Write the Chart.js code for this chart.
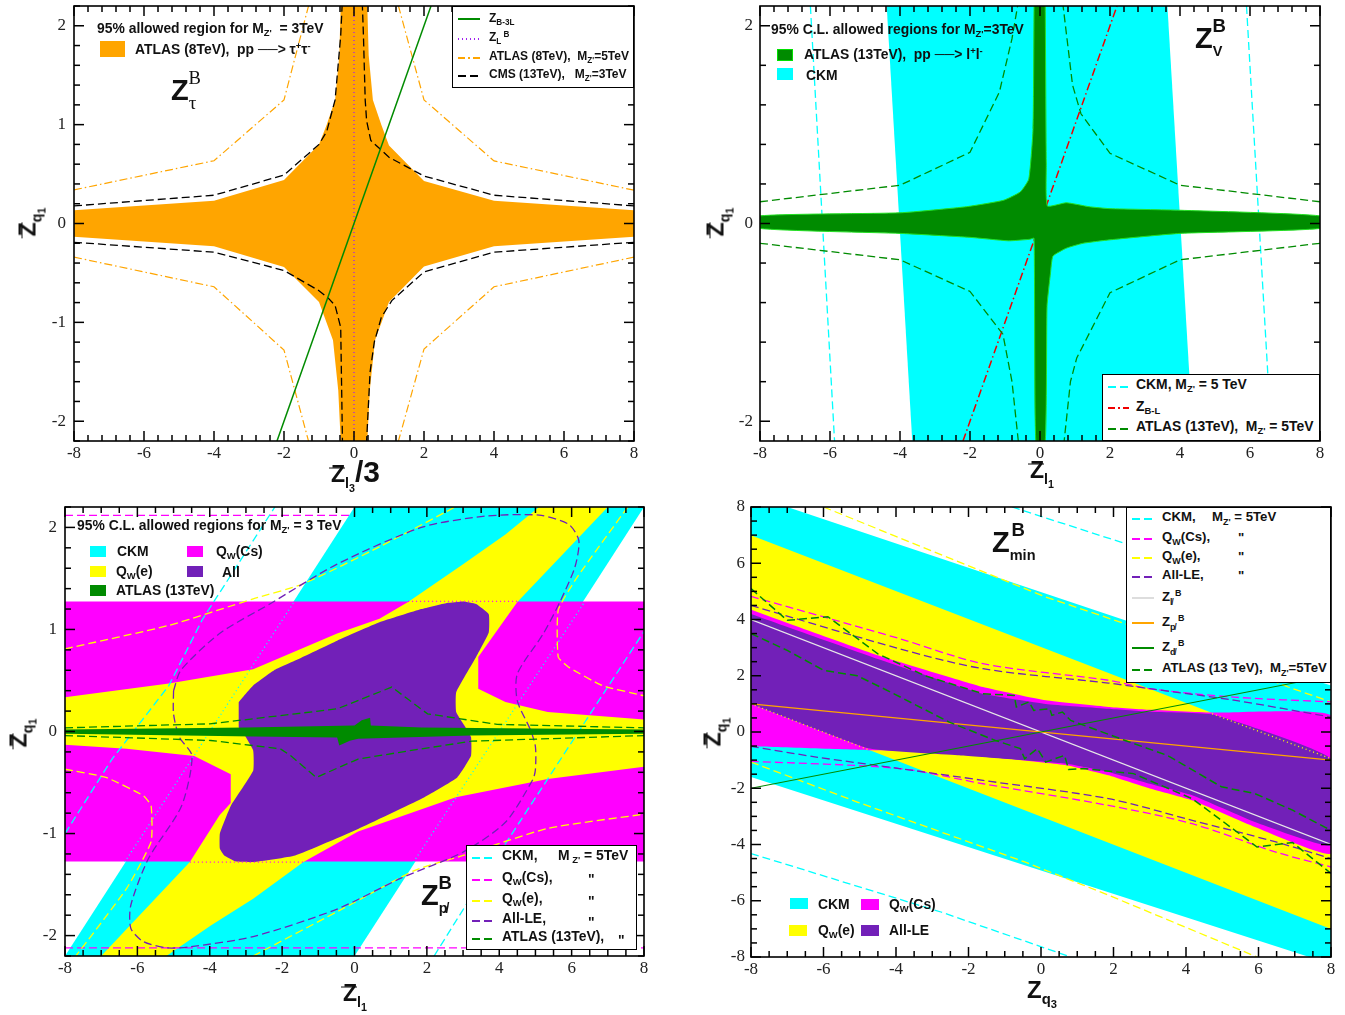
<!DOCTYPE html>
<html lang="en">
<head>
<meta charset="UTF-8">
<title>Z' allowed regions</title>
<script src="https://cdn.jsdelivr.net/npm/chart.js"></script>
<style>
  html, body { margin: 0; background: #fff; overflow: hidden; }
  #page { position: relative; width: 1345px; height: 1015px; }
  canvas { position: absolute; }
  .t { position: absolute; white-space: pre; font: bold 13.9px "Liberation Sans", sans-serif; color: #111; transform: translateY(-50%); z-index: 3; line-height: 1; }
  .t sub, .t sup { font-size: 68%; line-height: 0; }
  .t sub { vertical-align: -0.35em; }
  .t sup { vertical-align: 0.55em; }
  .s12 { font-size: 12px; }
  .s13 { font-size: 13.2px; }
  .box { position: absolute; background: #fff; border: 1.5px solid #000; box-sizing: border-box; z-index: 2; }
  .sw { position: absolute; z-index: 3; }
  .ln { position: absolute; height: 1.5px; z-index: 3; background: var(--c); }
  .ln.da { background: repeating-linear-gradient(90deg, var(--c) 0 8px, transparent 8px 12px); }
  .ln.dd { background: repeating-linear-gradient(90deg, var(--c) 0 7px, transparent 7px 10px, var(--c) 10px 12px, transparent 12px 15px); }
  .ln.do { background: repeating-linear-gradient(90deg, var(--c) 0 1.5px, transparent 1.5px 4px); }
  .big { font-size: 29px; }
  .big sub { font-size: 50%; vertical-align: -0.6em; }
  .big sup { font-size: 64%; vertical-align: 0.85em; }
  .big sub.srf { font-size: 66%; vertical-align: -0.5em; }
  .srf { font-family: "Liberation Serif", serif; font-weight: normal; }
  .ax { font-size: 23px; }
  .ax sub { font-size: 62%; vertical-align: -0.4em; }
  .ax sub sub { font-size: 75%; }
  .rot { transform: translate(-50%, -50%) rotate(-90deg); }
  .zb { position: relative; }
  .zb::before { content: ""; position: absolute; left: -2px; right: 0; top: 26%; border-top: 1.5px solid #111; }
</style>
</head>
<body>
<div id="page">
  <canvas id="c1"></canvas><canvas id="c2"></canvas><canvas id="c3"></canvas><canvas id="c4"></canvas>

  <!-- top left -->
  <div class="t" style="left:97px;top:29px">95% allowed region for M<sub>Z'</sub>  = 3TeV</div>
  <div class="sw" style="left:100px;top:41px;width:25px;height:16px;background:#ffa500"></div>
  <div class="t" style="left:135px;top:50px">ATLAS (8TeV),  pp ──> τ<sup>+</sup>τ<sup>-</sup></div>
  <div class="t big" style="left:171px;top:90px">Z<sub class="srf">τ</sub><sup class="srf" style="margin-left:-8px">B</sup></div>
  <div class="box" style="left:452px;top:6px;width:182px;height:82px"></div>
  <div class="ln" style="left:458px;top:18px;width:22px;--c:#008b00"></div>
  <div class="t s12" style="left:489px;top:18px">Z<sub>B-3L</sub></div>
  <div class="ln do" style="left:458px;top:38px;width:22px;--c:#a020f0"></div>
  <div class="t s12" style="left:489px;top:37px">Z<sub>L</sub><sup> B</sup></div>
  <div class="ln dd" style="left:458px;top:57px;width:22px;--c:#ffa500"></div>
  <div class="t s12" style="left:489px;top:56px">ATLAS (8TeV),  M<sub>Z'</sub>=5TeV</div>
  <div class="ln da" style="left:458px;top:75px;width:22px;--c:#000"></div>
  <div class="t s12" style="left:489px;top:74px">CMS (13TeV),   M<sub>Z'</sub>=3TeV</div>
  <div class="t rot ax" style="left:29px;top:222px"><span class="zb">Z</span><sub>q<sub>1</sub></sub></div>
  <div class="t ax" style="left:331px;top:472px"><span class="zb">Z</span><sub>l<sub>3</sub></sub><span style="font-size:30px">/3</span></div>

  <!-- top right -->
  <div class="t" style="left:771px;top:30px">95% C.L. allowed regions for M<sub>Z'</sub>=3TeV</div>
  <div class="sw" style="left:777px;top:49px;width:16px;height:12px;background:#008b00;outline:1px solid #00e000;outline-offset:-1px"></div>
  <div class="t" style="left:804px;top:55px">ATLAS (13TeV),  pp ──> l<sup>+</sup>l<sup>-</sup></div>
  <div class="sw" style="left:777px;top:68px;width:16px;height:12px;background:#0ff"></div>
  <div class="t" style="left:806px;top:76px">CKM</div>
  <div class="t big" style="left:1195px;top:38px">Z<sub>V</sub><sup style="margin-left:-10px">B</sup></div>
  <div class="box" style="left:1102px;top:374px;width:218px;height:67px"></div>
  <div class="ln da" style="left:1108px;top:386px;width:21px;--c:#0ff"></div>
  <div class="t" style="left:1136px;top:385px">CKM, M<sub>Z'</sub> = 5 TeV</div>
  <div class="ln dd" style="left:1108px;top:407px;width:21px;--c:#f00000"></div>
  <div class="t" style="left:1136px;top:407px">Z<sub>B-L</sub></div>
  <div class="ln da" style="left:1108px;top:428px;width:21px;--c:#008b00"></div>
  <div class="t" style="left:1136px;top:427px">ATLAS (13TeV),  M<sub>Z'</sub> = 5TeV</div>
  <div class="t rot ax" style="left:717px;top:222px"><span class="zb">Z</span><sub>q<sub>1</sub></sub></div>
  <div class="t ax" style="left:1030px;top:471px"><span class="zb">Z</span><sub>l<sub>1</sub></sub></div>

  <!-- bottom left -->
  <div class="t" style="left:77px;top:526px">95% C.L. allowed regions for M<sub>Z'</sub> = 3 TeV</div>
  <div class="sw" style="left:90px;top:546px;width:16px;height:11px;background:#0ff"></div>
  <div class="t" style="left:117px;top:552px">CKM</div>
  <div class="sw" style="left:187px;top:546px;width:16px;height:11px;background:#f0f"></div>
  <div class="t" style="left:216px;top:552px">Q<sub>W</sub>(Cs)</div>
  <div class="sw" style="left:90px;top:566px;width:16px;height:11px;background:#ff0"></div>
  <div class="t" style="left:116px;top:572px">Q<sub>W</sub>(e)</div>
  <div class="sw" style="left:187px;top:566px;width:16px;height:11px;background:#7220b8"></div>
  <div class="t" style="left:222px;top:573px">All</div>
  <div class="sw" style="left:90px;top:585px;width:16px;height:11px;background:#008b00"></div>
  <div class="t" style="left:116px;top:591px">ATLAS (13TeV)</div>
  <div class="t big" style="left:421px;top:895px">Z<sub>p̸</sub><sup style="margin-left:-9px">B</sup></div>
  <div class="box" style="left:466px;top:845px;width:171px;height:105px"></div>
  <div class="ln da" style="left:472px;top:857px;width:23px;--c:#0ff"></div>
  <div class="t" style="left:502px;top:856px">CKM,</div><div class="t" style="left:558px;top:856px">M<sub> Z'</sub> = 5TeV</div>
  <div class="ln da" style="left:472px;top:879px;width:23px;--c:#f0f"></div>
  <div class="t" style="left:502px;top:878px">Q<sub>W</sub>(Cs),</div><div class="t" style="left:588px;top:880px">"</div>
  <div class="ln da" style="left:472px;top:900px;width:23px;--c:#ff0"></div>
  <div class="t" style="left:502px;top:899px">Q<sub>W</sub>(e),</div><div class="t" style="left:588px;top:902px">"</div>
  <div class="ln da" style="left:472px;top:920px;width:23px;--c:#7220b8"></div>
  <div class="t" style="left:502px;top:919px">All-LE,</div><div class="t" style="left:588px;top:923px">"</div>
  <div class="ln da" style="left:472px;top:938px;width:23px;--c:#008b00"></div>
  <div class="t" style="left:502px;top:937px">ATLAS (13TeV),</div><div class="t" style="left:618px;top:941px">"</div>
  <div class="t rot ax" style="left:20px;top:733px"><span class="zb">Z</span><sub>q<sub>1</sub></sub></div>
  <div class="t ax" style="left:343px;top:994px"><span class="zb">Z</span><sub>l<sub>1</sub></sub></div>

  <!-- bottom right -->
  <div class="t big" style="left:992px;top:542px">Z<sub>min</sub><sup style="margin-left:-24px">B</sup></div>
  <div class="box" style="left:1126px;top:507px;width:205px;height:176px"></div>
  <div class="ln da" style="left:1132px;top:518px;width:22px;--c:#0ff"></div>
  <div class="t s13" style="left:1162px;top:517px">CKM,</div><div class="t s13" style="left:1212px;top:517px">M<sub>Z'</sub> = 5TeV</div>
  <div class="ln da" style="left:1132px;top:538px;width:22px;--c:#f0f"></div>
  <div class="t s13" style="left:1162px;top:537px">Q<sub>W</sub>(Cs),</div><div class="t s13" style="left:1238px;top:538px">"</div>
  <div class="ln da" style="left:1132px;top:557px;width:22px;--c:#ff0"></div>
  <div class="t s13" style="left:1162px;top:556px">Q<sub>W</sub>(e),</div><div class="t s13" style="left:1238px;top:557px">"</div>
  <div class="ln da" style="left:1132px;top:576px;width:22px;--c:#7220b8"></div>
  <div class="t s13" style="left:1162px;top:575px">All-LE,</div><div class="t s13" style="left:1238px;top:576px">"</div>
  <div class="ln" style="left:1132px;top:597px;width:22px;--c:#ddd"></div>
  <div class="t s13" style="left:1162px;top:597px">Z<sub>l̸</sub><sup> B</sup></div>
  <div class="ln" style="left:1132px;top:622px;width:22px;--c:#ffa500"></div>
  <div class="t s13" style="left:1162px;top:622px">Z<sub>p̸</sub><sup> B</sup></div>
  <div class="ln" style="left:1132px;top:647px;width:22px;--c:#008b00"></div>
  <div class="t s13" style="left:1162px;top:647px">Z<sub>d̸</sub><sup> B</sup></div>
  <div class="ln da" style="left:1132px;top:669px;width:22px;--c:#008b00"></div>
  <div class="t s13" style="left:1162px;top:668px">ATLAS (13 TeV),  M<sub>Z'</sub>=5TeV</div>
  <div class="sw" style="left:790px;top:898px;width:18px;height:11px;background:#0ff"></div>
  <div class="t" style="left:818px;top:905px">CKM</div>
  <div class="sw" style="left:861px;top:899px;width:18px;height:11px;background:#f0f"></div>
  <div class="t" style="left:889px;top:905px">Q<sub>W</sub>(Cs)</div>
  <div class="sw" style="left:789px;top:925px;width:18px;height:11px;background:#ff0"></div>
  <div class="t" style="left:818px;top:931px">Q<sub>W</sub>(e)</div>
  <div class="sw" style="left:861px;top:925px;width:18px;height:11px;background:#7220b8"></div>
  <div class="t" style="left:889px;top:931px">All-LE</div>
  <div class="t rot ax" style="left:714px;top:732px"><span class="zb">Z</span><sub>q<sub>1</sub></sub></div>
  <div class="t ax" style="left:1027px;top:991px;font-size:24px">Z<sub>q<sub>3</sub></sub></div>
</div>

<script>
// tick values
const xTickVals = [-8, -6, -4, -2, 0, 2, 4, 6, 8];
const yTicksUnit = [-2, -1, 0, 1, 2];
const yTicksTwo = [-2, 0, 2];
const yTicksWide = [-8, -6, -4, -2, 0, 2, 4, 6, 8];

// ---- top left: Z_tau ----
const tauAtlas3 = [[0.38,2.2],[0.42,1.7],[0.54,1.25],[0.78,1.0],[1,0.79],[2,0.43],[4,0.23],[8,0.135],[8,-0.135],[4,-0.23],[2,-0.434],[1,-0.795],[0.6,-1.18],[0.45,-1.69],[0.38,-2.2],[-0.38,-2.2],[-0.45,-1.69],[-0.6,-1.18],[-1,-0.795],[-2,-0.44],[-4,-0.23],[-8,-0.135],[-8,0.135],[-4,0.23],[-2,0.44],[-1,0.8],[-0.78,1.0],[-0.54,1.25],[-0.42,1.7],[-0.38,2.2]];
const tauCmsUpRight = [[8,0.178],[4,0.286],[2,0.48],[1,0.67],[0.48,0.84],[0.36,1.04],[0.32,1.25],[0.27,1.9],[0.24,2.2]];
const tauCmsUpLeft = [[-8,0.178],[-4,0.286],[-2,0.49],[-1,0.8],[-0.78,0.93],[-0.54,1.25],[-0.38,1.9],[-0.34,2.2]];
const tauCmsLowLeft = [[-8,-0.19],[-4,-0.29],[-2,-0.475],[-1,-0.68],[-0.72,-0.76],[-0.54,-0.83],[-0.38,-1.05],[-0.33,-2.2]];
const tauCmsLowRight = [[8,-0.19],[4,-0.29],[2,-0.49],[1.08,-0.78],[0.78,-0.95],[0.58,-1.2],[0.46,-1.5],[0.36,-2.2]];
const tauAtlas5UpRight = [[8,0.337],[4,0.633],[2,1.25],[1.27,2.2]];
const tauAtlas5UpLeft = [[-8,0.34],[-4,0.635],[-2,1.25],[-1.3,2.2]];
const tauAtlas5LowRight = [[8,-0.34],[4,-0.64],[2,-1.27],[1.27,-2.2]];
const tauAtlas5LowLeft = [[-8,-0.34],[-4,-0.64],[-2,-1.28],[-1.3,-2.2]];
const tauB3L = [[-2.2,-2.2],[2.2,2.2]];
const tauL = [[0,-2.2],[0,2.2]];

// ---- top right: Z_V ----
const vCkm = [[-4.38,2.2],[3.64,2.2],[4.38,-2.2],[-3.65,-2.2]];
const vCkm5Left = [[-6.56,2.2],[-5.87,-2.2]];
const vCkm5Right = [[5.9,2.2],[6.62,-2.2]];
const vBL = [[-2.2,-2.2],[2.2,2.2]];
const vAtlas3 = [[0.15,2.2],[0.18,0.6],[0.21,0.178],[0.75,0.21],[1.4,0.17],[2,0.15],[4,0.134],[8,0.077],[8,-0.05],[4,-0.1],[2,-0.165],[1.23,-0.2],[0.75,-0.25],[0.37,-0.33],[0.3,-0.5],[0.2,-0.84],[0.15,-2.2],[-0.12,-2.2],[-0.17,-0.15],[-0.3,-0.16],[-0.9,-0.175],[-2,-0.14],[-4,-0.1],[-8,-0.05],[-8,0.077],[-4,0.108],[-2.1,0.17],[-1.04,0.235],[-0.56,0.32],[-0.32,0.45],[-0.2,0.95],[-0.17,2.2]];
const vAtlas5UpLeft = [[-8,0.22],[-4,0.387],[-2,0.72],[-1.16,1.33],[-0.8,1.87],[-0.64,2.2]];
const vAtlas5UpRight = [[8,0.22],[4,0.387],[2,0.71],[1.17,1.11],[0.93,1.4],[0.66,2.2]];
const vAtlas5LowLeft = [[-8,-0.2],[-4,-0.367],[-2,-0.687],[-1.06,-1.12],[-0.8,-1.6],[-0.62,-2.2]];
const vAtlas5LowRight = [[8,-0.2],[4,-0.367],[2,-0.7],[1.05,-1.36],[0.87,-1.6],[0.69,-2.2]];

// ---- bottom left: Z_pslash ----
const pCkm = [[-8,-2.2],[0,2.2],[8,2.2],[0,-2.2]];
const pCs = [[-8,1.275],[8,1.275],[8,-1.275],[-8,-1.275]];
const pQwe = [[-8,0.335],[-5.13,0.47],[-2.8,0.61],[-0.48,0.96],[0.69,1.105],[1.48,1.27],[3,1.64],[4.17,1.93],[5.1,2.2],[7,2.2],[4.5,1.27],[3.42,0.73],[3.42,0.42],[4.17,0.29],[5.34,0.19],[8,0.117],[8,-0.345],[5.34,-0.465],[2.8,-0.645],[0.1,-0.98],[-1.41,-1.28],[-2.8,-1.64],[-3.97,-1.9],[-5.2,-2.2],[-7,-2.2],[-4.55,-1.28],[-3.73,-0.82],[-3.42,-0.7],[-3.42,-0.42],[-4.43,-0.24],[-6.3,-0.17],[-8,-0.13]];
const pAll = [[-3.2,0.287],[-2.8,0.45],[-2.22,0.6],[-1.64,0.695],[-0.48,0.89],[0.69,1.07],[1.85,1.2],[2.55,1.26],[3.01,1.275],[3.36,1.25],[3.71,1.15],[3.71,0.97],[3.36,0.73],[2.81,0.385],[2.81,0.19],[3.07,0.04],[3.22,-0.055],[3.22,-0.238],[2.84,-0.45],[1.85,-0.66],[0.1,-0.955],[-1.64,-1.215],[-2.8,-1.28],[-3.27,-1.275],[-3.6,-1.215],[-3.72,-1.15],[-3.72,-1],[-3.42,-0.73],[-2.8,-0.385],[-2.8,-0.186],[-3.03,-0.04],[-3.2,0.04]];
const pAtlas3 = [[-8,0.02],[-3,0.04],[0,0.06],[0.2,0.11],[0.43,0.134],[0.45,0.06],[1.85,0.04],[8,0.02],[8,-0.023],[3.22,-0.04],[0.1,-0.07],[-0.13,-0.09],[-0.42,-0.137],[-0.48,-0.06],[-2.8,-0.05],[-8,-0.023]];
const pAtlas5Up = [[-8,0.036],[-4,0.075],[-3.2,0.108],[-1.64,0.173],[-0.48,0.222],[1.03,0.435],[2.02,0.173],[3.94,0.07],[8,0.036]];
const pAtlas5Low = [[-8,-0.04],[-3.97,-0.088],[-2.05,-0.17],[-1.76,-0.238],[-1.06,-0.45],[0.1,-0.27],[1.85,-0.17],[3.24,-0.095],[8,-0.04]];
const pCkm5Left = [[-8,-1],[-6.7,-0.27],[-5.13,0.45],[-4.2,1.1],[-2.2,2.2]];
const pCkm5Right = [[2.2,-2.2],[3.01,-1.74],[4.17,-1.1],[8,0.98]];
const pCkmEdgeLeft = [[-6.35,-1.28],[-1.67,1.27]];
const pCkmEdgeRight = [[1.63,-1.28],[6.36,1.27]];
const pCsEdgeTop = [[1.48,1.275],[4.5,1.275]];
const pCsEdgeLow = [[-4.55,-1.28],[-1.41,-1.28]];
const pCs5Top = [[-8,2.118],[0,2.118]];
const pCs5Low = [[-8,-2.12],[8,-2.12]];
const pQwe5UpLeft = [[-8,0.81],[-5.13,1.04],[-2.8,1.3],[-1.4,1.45],[0.69,1.81],[2.78,2.2]];
const pQwe5UpRight = [[7.55,2.2],[6.15,1.51],[5.63,1.19],[5.63,0.73],[5.92,0.63],[6.85,0.45],[8,0.35]];
const pQwe5LowLeft = [[-8,-0.37],[-6.87,-0.45],[-5.83,-0.63],[-5.62,-0.73],[-5.62,-1.08],[-6.3,-1.54],[-7.7,-2.2]];
const pQwe5LowRight = [[-2.8,-2.2],[-0.13,-1.7],[1.67,-1.36],[3,-1.215],[5.34,-0.95],[8,-0.81]];
const pAll5 = [[-5,0.4],[-4.8,0.6],[-3.73,0.96],[-2.34,1.25],[-0.48,1.64],[1.85,2],[3.6,2.11],[5.1,2.12],[5.92,2.03],[6.2,1.87],[6.09,1.61],[5.69,1.28],[5.22,0.96],[4.5,0.565],[4.5,0.3],[4.87,0.01],[5,-0.15],[5,-0.37],[4.93,-0.47],[4.17,-0.89],[3.01,-1.18],[1.27,-1.44],[-0.48,-1.74],[-2.8,-2.01],[-4.55,-2.11],[-5.19,-2.12],[-5.83,-2.06],[-6.18,-1.93],[-6.18,-1.7],[-5.7,-1.25],[-4.78,-0.73],[-4.49,-0.24],[-4.84,-0.055],[-5,0.17],[-5,0.4]];

// ---- bottom right: Z_min ----
const mCkm = [[-8,8],[-7,8],[2.32,3.97],[8,1.65],[8,-8],[7.4,-8],[-8,-1.6]];
const mQwe = [[-8,7],[4.69,0.69],[8,-0.95],[8,-7],[-4.72,-0.65],[-8,1]];
const mCs = [[-8,4.35],[-4.5,2.73],[-1.6,1.6],[0.13,1.125],[1.86,0.89],[3,0.79],[4.69,0.69],[8,0.59],[8,-4.32],[5.9,-3.38],[4.17,-2.43],[3,-2.01],[1.86,-1.54],[0.7,-1.18],[-2.76,-0.71],[-4.72,-0.65],[-8,-0.51]];
const mAll = [[-8,4.2],[-4.5,2.6],[-1.6,1.36],[0.13,1],[1.86,0.83],[3,0.72],[4.75,0.62],[8,-0.95],[8,-4.03],[5.9,-3.2],[4.17,-2.25],[3,-1.84],[1.86,-1.42],[0.7,-1.13],[-2.3,-0.83],[-4.72,-0.59],[-8,1]];
const mQweEdgeLeft = [[-8,1],[-4.72,-0.65]];
const mQweEdgeRight = [[4.72,0.65],[8,-0.95]];
const mLslash = [[-8,4],[8,-4]];
const mPslash = [[-8,1],[8,-1]];
const mDslash = [[-8,-2],[8,2]];
const mCs5Up = [[-8,4.82],[-3.9,3.32],[-1.6,2.43],[1.86,1.84],[3,1.54],[5.32,1.24],[8,1.07]];
const mCs5Low = [[-8,-1.04],[-3.9,-1.3],[-1.6,-1.84],[1.86,-2.61],[4.17,-3.26],[6.48,-4.27],[8,-4.8]];
const mAll5Up = [[-8,4.5],[-3.9,2.96],[-1.6,2.25],[1.86,1.74],[3,1.54],[5.32,1.13],[8,0.53]];
const mAll5Low = [[-8,-0.51],[-6.2,-0.89],[-3.9,-1.3],[-1.6,-1.72],[1.86,-2.37],[4.17,-3.14],[6.48,-3.91],[8,-4.5]];
const mQwe5Up = [[-6,8],[0.13,4.8],[2.32,3.85],[6.82,1.6],[8,1.07]];
const mQwe5Low = [[-8,-1.07],[-5.07,-2.49],[-0.45,-4.62],[1.86,-5.8],[5.96,-8]];
const mCkm5Up = [[-0.8,8],[2.32,6.7],[8,3.03]];
const mCkm5Low = [[-8,-4.32],[-2.76,-6.4],[0.82,-8]];
const mAtlas5A = [[-8,5.1],[-7,3.97],[-5.88,4.1],[-4.5,2.78],[-3.2,2],[-1.6,1.36],[-0.74,1.3],[-0.68,0.89],[-0.33,1.07],[-0.2,0.77],[0.24,0.83],[0.3,0.59],[0.59,0.71],[0.82,0.41],[2.32,-0.3],[3.48,-0.83],[4.98,-1.95],[5.9,-2.19],[6.94,-2.78],[8,-3.5]];
const mAtlas5B = [[-8,3.5],[-7,2.9],[-5.99,2.19],[-5.07,2],[-4.15,1.42],[-2.53,0.35],[-1.26,-0.3],[-0.57,-0.59],[-0.45,-0.95],[-0.1,-0.59],[0.13,-1.07],[0.65,-0.83],[0.76,-1.33],[1.17,-1.3],[2.55,-1.48],[4.17,-2.37],[5.04,-3.2],[5.96,-4.09],[6.94,-3.93],[8,-5.03]];

const CYAN = '#00ffff', YEL = '#ffff00', MAG = '#ff00ff', PUR = '#7220b8', GRN = '#008b00', ORG = '#ffa500';
const DASH = [8, 4], DOT = [1, 3], DASHDOT = [8, 3, 1.5, 3];

Chart.defaults.font.family = '"Liberation Serif", serif';

function pts(a) { return a.map(p => ({ x: p[0], y: p[1] })); }
function area(a, color, edge, bend) {
  return { data: pts(a), showLine: true, fill: 'shape', backgroundColor: color, borderColor: edge || color, borderWidth: edge ? 1 : 0, pointRadius: 0, tension: bend || 0 };
}
function curve(a, color, dash, w, bend) {
  return { data: pts(a), showLine: true, fill: false, borderColor: color, borderWidth: w || 1.3, borderDash: dash || [], pointRadius: 0, tension: bend || 0 };
}

// own tick marks: inward on all four sides, placed through the chart's scales
const frameTicks = {
  id: 'frameTicks',
  afterDraw(chart, args, o) {
    const { ctx, chartArea: a, scales: { x, y } } = chart;
    ctx.save();
    ctx.strokeStyle = '#000';
    ctx.lineWidth = 1.5;
    const mark = (x1, y1, x2, y2) => { ctx.beginPath(); ctx.moveTo(x1, y1); ctx.lineTo(x2, y2); ctx.stroke(); };
    for (let v = x.min; v <= x.max + 1e-6; v += o.xMinor) {
      const major = Math.abs(v / o.xMajor - Math.round(v / o.xMajor)) < 1e-6;
      const l = major ? 10 : 6, p = x.getPixelForValue(v);
      mark(p, a.bottom, p, a.bottom - l);
      mark(p, a.top, p, a.top + l);
    }
    for (let v = -o.yRound; v <= o.yRound + 1e-6; v += o.yMinor) {
      const major = Math.abs(v / o.yMajor - Math.round(v / o.yMajor)) < 1e-6;
      const l = major ? 10 : 6, p = y.getPixelForValue(v);
      mark(a.left, p, a.left + l, p);
      mark(a.right, p, a.right - l, p);
    }
    ctx.lineWidth = 1.6;
    ctx.strokeRect(a.left, a.top, a.right - a.left, a.bottom - a.top);
    ctx.restore();
  }
};

function panel(id, box, yLim, yTicks, yPad, tickOpts, sets) {
  const L = 50, R = 14, T = 10, B = 30;
  const cv = document.getElementById(id);
  cv.width = box.r - box.l + L + R;
  cv.height = box.b - box.t + T + B;
  cv.style.left = (box.l - L) + 'px';
  cv.style.top = (box.t - T) + 'px';
  sets.forEach((s, i) => { s.order = sets.length - i; }); // later in the list paints on top
  const tickFont = { size: 17 };
  return new Chart(cv, {
    type: 'scatter',
    data: { datasets: sets },
    plugins: [frameTicks],
    options: {
      responsive: false,
      animation: false,
      events: [],
      layout: { padding: { left: 0, right: R, top: T, bottom: 0 } },
      plugins: { legend: { display: false }, tooltip: { enabled: false }, frameTicks: tickOpts },
      scales: {
        x: {
          type: 'linear', min: -8, max: 8,
          grid: { display: false, drawTicks: false }, border: { display: false },
          ticks: { color: '#222', font: tickFont, padding: 2, autoSkip: false, maxRotation: 0 },
          afterBuildTicks: s => { s.ticks = xTickVals.map(v => ({ value: v })); },
          afterFit: s => { s.height = B; s.paddingLeft = 0; s.paddingRight = 0; }
        },
        y: {
          type: 'linear', min: -yLim, max: yLim,
          grid: { display: false, drawTicks: false }, border: { display: false },
          ticks: { color: '#222', font: tickFont, padding: yPad, autoSkip: false },
          afterBuildTicks: s => { s.ticks = yTicks.map(v => ({ value: v })); },
          afterFit: s => { s.width = L; s.paddingTop = 0; s.paddingBottom = 0; }
        }
      }
    }
  });
}

panel('c1', { l: 74, r: 634, t: 6, b: 441 }, 2.2, yTicksUnit, 8,
  { xMinor: 0.4, xMajor: 2, yMinor: 0.2, yMajor: 1, yRound: 2.2 }, [
  area(tauAtlas3, ORG),
  curve(tauAtlas5UpRight, ORG, DASHDOT, 1.2), curve(tauAtlas5UpLeft, ORG, DASHDOT, 1.2),
  curve(tauAtlas5LowRight, ORG, DASHDOT, 1.2), curve(tauAtlas5LowLeft, ORG, DASHDOT, 1.2),
  curve(tauCmsUpRight, '#000', DASH), curve(tauCmsUpLeft, '#000', DASH),
  curve(tauCmsLowLeft, '#000', DASH), curve(tauCmsLowRight, '#000', DASH),
  curve(tauL, '#a020f0', DOT), curve(tauB3L, GRN, [], 1.5)
]);

panel('c2', { l: 760, r: 1320, t: 6, b: 441 }, 2.2, yTicksTwo, 7,
  { xMinor: 0.4, xMajor: 2, yMinor: 0.4, yMajor: 2, yRound: 2 }, [
  area(vCkm, CYAN),
  curve(vCkm5Left, CYAN, DASH), curve(vCkm5Right, CYAN, DASH),
  curve(vBL, '#f00000', DASHDOT, 1.5),
  area(vAtlas3, GRN, '#22e022', 0.15),
  curve(vAtlas5UpLeft, GRN, DASH), curve(vAtlas5UpRight, GRN, DASH),
  curve(vAtlas5LowLeft, GRN, DASH), curve(vAtlas5LowRight, GRN, DASH)
]);

panel('c3', { l: 65, r: 644, t: 507, b: 956 }, 2.2, yTicksUnit, 8,
  { xMinor: 0.5, xMajor: 2, yMinor: 0.2, yMajor: 1, yRound: 2.2 }, [
  curve(pCs5Top, MAG, DASH),
  area(pCkm, CYAN), area(pCs, MAG), area(pQwe, YEL), area(pAll, PUR, null, 0.12),
  curve(pCkmEdgeLeft, CYAN, DOT), curve(pCkmEdgeRight, CYAN, DOT),
  curve(pCsEdgeTop, MAG, DOT), curve(pCsEdgeLow, MAG, DOT),
  curve(pCs5Low, MAG, DASH),
  curve(pCkm5Left, CYAN, DASH), curve(pCkm5Right, CYAN, DASH),
  curve(pQwe5UpLeft, YEL, DASH, 1.3, 0.2), curve(pQwe5UpRight, YEL, DASH, 1.3, 0.15),
  curve(pQwe5LowLeft, YEL, DASH, 1.3, 0.15), curve(pQwe5LowRight, YEL, DASH, 1.3, 0.2),
  curve(pAll5, PUR, DASH, 1.3, 0.25),
  curve(pAtlas5Up, GRN, DASH), curve(pAtlas5Low, GRN, DASH),
  area(pAtlas3, GRN)
]);

panel('c4', { l: 751, r: 1331, t: 507, b: 957 }, 8, yTicksWide, 6,
  { xMinor: 0.5, xMajor: 2, yMinor: 0.5, yMajor: 2, yRound: 8 }, [
  area(mCkm, CYAN), area(mQwe, YEL), area(mCs, MAG, null, 0.12), area(mAll, PUR, null, 0.12),
  curve(mQweEdgeLeft, YEL, DOT), curve(mQweEdgeRight, YEL, DOT),
  curve(mCkm5Up, CYAN, DASH), curve(mCkm5Low, CYAN, DASH),
  curve(mQwe5Up, YEL, DASH), curve(mQwe5Low, YEL, DASH),
  curve(mCs5Up, MAG, DASH, 1.3, 0.3), curve(mCs5Low, MAG, DASH, 1.3, 0.3),
  curve(mAll5Up, PUR, DASH, 1.3, 0.3), curve(mAll5Low, PUR, DASH, 1.3, 0.3),
  curve(mLslash, '#e8e8e8', [], 1.2), curve(mPslash, ORG, [], 1.2), curve(mDslash, GRN, [], 1.2),
  curve(mAtlas5A, GRN, DASH, 1.5), curve(mAtlas5B, GRN, DASH, 1.5)
]);
</script>
</body>
</html>
